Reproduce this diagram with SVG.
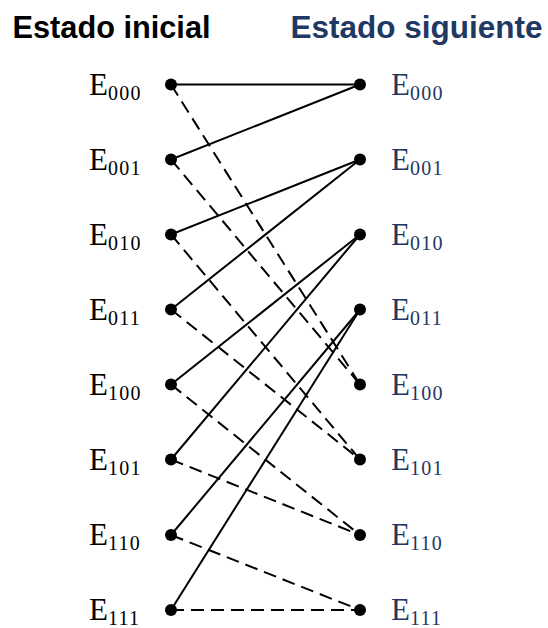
<svg xmlns="http://www.w3.org/2000/svg" width="548" height="628" viewBox="0 0 548 628">
<style>
.h{font-family:"Liberation Sans",Arial,sans-serif;font-weight:bold;font-size:31px}
.lbl{font-family:"Liberation Serif","Times New Roman",serif;font-size:31px}
.sub{font-size:20px;letter-spacing:1.3px}
.l{fill:#000}
.r{fill:#1F3864}
.s{stroke:#000;stroke-width:2;fill:none}
.d{stroke:#000;stroke-width:2;fill:none;stroke-dasharray:13 7}
.dot{fill:#000}
</style>
<rect width="548" height="628" fill="#fff"/>
<text class="h l" x="12.5" y="38" textLength="198" lengthAdjust="spacingAndGlyphs">Estado inicial</text>
<text class="h r" x="290.5" y="38" textLength="252" lengthAdjust="spacingAndGlyphs">Estado siguiente</text>
<g id="connectors">
<line class="s" x1="171" y1="84.5" x2="360" y2="84.5"/>
<line class="s" x1="171" y1="159.5" x2="360" y2="84.5"/>
<line class="s" x1="171" y1="234.5" x2="360" y2="159.5"/>
<line class="s" x1="171" y1="309.5" x2="360" y2="159.5"/>
<line class="s" x1="171" y1="384.5" x2="360" y2="234.5"/>
<line class="s" x1="171" y1="459.5" x2="360" y2="234.5"/>
<line class="s" x1="171" y1="535" x2="360" y2="309.5"/>
<line class="s" x1="171" y1="610" x2="360" y2="309.5"/>
<line class="d" x1="171" y1="84.5" x2="360" y2="384.5"/>
<line class="d" x1="171" y1="159.5" x2="360" y2="384.5"/>
<line class="d" x1="171" y1="234.5" x2="360" y2="459.5"/>
<line class="d" x1="171" y1="309.5" x2="360" y2="459.5"/>
<line class="d" x1="171" y1="384.5" x2="360" y2="535"/>
<line class="d" x1="171" y1="459.5" x2="360" y2="535"/>
<line class="d" x1="171" y1="535" x2="360" y2="610"/>
<line class="d" x1="171" y1="610" x2="360" y2="610"/>
</g>
<g id="L000"><circle class="dot" cx="171" cy="84.5" r="6"/><text class="lbl l" x="89" y="94.5">E<tspan class="sub" dy="5">000</tspan></text></g>
<g id="L001"><circle class="dot" cx="171" cy="159.5" r="6"/><text class="lbl l" x="89" y="169.5">E<tspan class="sub" dy="5">001</tspan></text></g>
<g id="L010"><circle class="dot" cx="171" cy="234.5" r="6"/><text class="lbl l" x="89" y="244.5">E<tspan class="sub" dy="5">010</tspan></text></g>
<g id="L011"><circle class="dot" cx="171" cy="309.5" r="6"/><text class="lbl l" x="89" y="319.5">E<tspan class="sub" dy="5">011</tspan></text></g>
<g id="L100"><circle class="dot" cx="171" cy="384.5" r="6"/><text class="lbl l" x="89" y="394.5">E<tspan class="sub" dy="5">100</tspan></text></g>
<g id="L101"><circle class="dot" cx="171" cy="459.5" r="6"/><text class="lbl l" x="89" y="469.5">E<tspan class="sub" dy="5">101</tspan></text></g>
<g id="L110"><circle class="dot" cx="171" cy="535" r="6"/><text class="lbl l" x="89" y="545">E<tspan class="sub" dy="5">110</tspan></text></g>
<g id="L111"><circle class="dot" cx="171" cy="610" r="6"/><text class="lbl l" x="89" y="620">E<tspan class="sub" dy="5">111</tspan></text></g>
<g id="R000"><circle class="dot" cx="360" cy="84.5" r="6"/><text class="lbl r" x="391" y="94.5">E<tspan class="sub" dy="5">000</tspan></text></g>
<g id="R001"><circle class="dot" cx="360" cy="159.5" r="6"/><text class="lbl r" x="391" y="169.5">E<tspan class="sub" dy="5">001</tspan></text></g>
<g id="R010"><circle class="dot" cx="360" cy="234.5" r="6"/><text class="lbl r" x="391" y="244.5">E<tspan class="sub" dy="5">010</tspan></text></g>
<g id="R011"><circle class="dot" cx="360" cy="309.5" r="6"/><text class="lbl r" x="391" y="319.5">E<tspan class="sub" dy="5">011</tspan></text></g>
<g id="R100"><circle class="dot" cx="360" cy="384.5" r="6"/><text class="lbl r" x="391" y="394.5">E<tspan class="sub" dy="5">100</tspan></text></g>
<g id="R101"><circle class="dot" cx="360" cy="459.5" r="6"/><text class="lbl r" x="391" y="469.5">E<tspan class="sub" dy="5">101</tspan></text></g>
<g id="R110"><circle class="dot" cx="360" cy="535" r="6"/><text class="lbl r" x="391" y="545">E<tspan class="sub" dy="5">110</tspan></text></g>
<g id="R111"><circle class="dot" cx="360" cy="610" r="6"/><text class="lbl r" x="391" y="620">E<tspan class="sub" dy="5">111</tspan></text></g>
</svg>
